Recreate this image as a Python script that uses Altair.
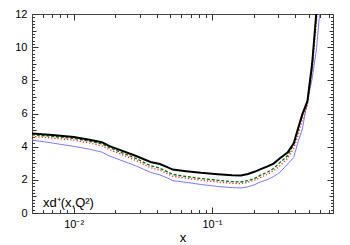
import altair as alt
import pandas as pd

# ---- data ----
x_vals = [0.005, 0.007, 0.010, 0.013, 0.016, 0.018, 0.022, 0.028, 0.036, 0.042,
          0.048, 0.052, 0.065, 0.083, 0.11, 0.14, 0.162, 0.182, 0.205, 0.225,
          0.25, 0.279, 0.31, 0.352, 0.39, 0.416, 0.45, 0.49, 0.53, 0.57, 0.6, 0.65]
black_vals = [4.80, 4.70, 4.58, 4.42, 4.27, 4.05, 3.78, 3.45, 3.08, 2.95, 2.75, 2.62,
              2.52, 2.42, 2.33, 2.27, 2.26, 2.35, 2.50, 2.65, 2.80, 2.98, 3.30, 3.65,
              4.20, 5.00, 5.95, 6.75, 9.0, 12.2, 14.0, 16.0]
green_vals = [4.72, 4.62, 4.50, 4.33, 4.17, 3.95, 3.66, 3.30, 2.85, 2.70, 2.48, 2.33,
              2.20, 2.08, 1.97, 1.89, 1.87, 1.95, 2.10, 2.28, 2.45, 2.68, 3.05, 3.45,
              4.15, 4.90, 5.90, 6.70, 8.9, 12.1, 14.0, 16.0]
red_vals = [4.62, 4.52, 4.40, 4.22, 4.05, 3.83, 3.55, 3.18, 2.73, 2.58, 2.36, 2.22,
            2.10, 1.98, 1.87, 1.79, 1.77, 1.85, 2.00, 2.15, 2.32, 2.55, 2.85, 3.30,
            3.90, 4.60, 5.60, 6.50, 8.6, 11.6, 13.8, 16.0]
blue_vals = [4.40, 4.22, 4.02, 3.85, 3.67, 3.45, 3.18, 2.85, 2.45, 2.30, 2.10, 1.95,
             1.85, 1.72, 1.60, 1.53, 1.51, 1.58, 1.72, 1.88, 2.00, 2.20, 2.45, 2.95,
             3.35, 4.20, 5.07, 6.75, 8.1, 9.9, 12.0, 15.0]

x_major = [0.01, 0.1]
x_minor = [0.006, 0.007, 0.008, 0.009, 0.02, 0.03, 0.04, 0.05, 0.06, 0.07, 0.08, 0.09,
           0.2, 0.3, 0.4, 0.5, 0.6, 0.7]
y_major = [0, 2, 4, 6, 8, 10, 12]
y_medium = [1, 3, 5, 7, 9, 11]
y_minor = [round(0.2 * i, 1) for i in range(61) if i % 5 != 0]
label_text = ["xd⁺(x,Q²)"]
x_title = "x"

FONT = "Liberation Sans"
TICK = "#333333"
x_scale = alt.Scale(type="log", domain=[0.005, 0.75], nice=False)
y_scale = alt.Scale(domain=[0, 12], nice=False, zero=False)


def df(vals):
    return pd.DataFrame({"x": x_vals, "y": vals})


def xaxis(orient, values, size, labels=False, title=None):
    kw = dict(orient=orient, values=values, tickSize=size, offset=-size, domain=False,
              grid=False, labels=labels, tickColor=TICK, tickWidth=1)
    if labels:
        kw.update(labelExpr="datum.value < 0.05 ? '10⁻²' : '10⁻¹'", labelFont=FONT,
                  labelFontSize=11, labelColor="black", labelPadding=5)
    if title:
        kw.update(title=title, titleFont=FONT, titleFontSize=13, titleFontWeight="normal",
                  titleColor="black", titlePadding=2)
    else:
        kw.update(title=None)
    return alt.Axis(**kw)


def yaxis(orient, values, size, labels=False):
    kw = dict(orient=orient, values=values, tickSize=size, offset=-size, domain=False,
              grid=False, labels=labels, tickColor=TICK, tickWidth=1, title=None)
    if labels:
        kw.update(format="d", labelFont=FONT, labelFontSize=11, labelColor="black",
                  labelPadding=5)
    return alt.Axis(**kw)


def layer(vals, mark_kw, xax, yax):
    return alt.Chart(df(vals)).mark_line(clip=True, **mark_kw).encode(
        x=alt.X("x:Q", scale=x_scale, axis=xax),
        y=alt.Y("y:Q", scale=y_scale, axis=yax),
    )


l_blue = layer(blue_vals, dict(color="#7a7aff", strokeWidth=1),
               xaxis("top", x_major, 6), yaxis("right", y_major, 6))
l_red = layer(red_vals, dict(color="#ff2020", strokeWidth=1.3, strokeDash=[1.2, 2]),
              xaxis("top", x_minor, 3.5), yaxis("left", y_minor, 2.5))
l_green = layer(green_vals, dict(color="#007000", strokeWidth=1.3, strokeDash=[3, 1.8]),
                xaxis("bottom", x_minor, 3.5), yaxis("left", y_medium, 4))
l_black = layer(black_vals, dict(color="black", strokeWidth=2),
                xaxis("bottom", x_major, 6, labels=True, title=x_title),
                yaxis("left", y_major, 6, labels=True))
l_h1 = layer(black_vals, dict(opacity=0), None, yaxis("right", y_medium, 4))
l_h2 = layer(black_vals, dict(opacity=0), None, yaxis("right", y_minor, 2.5))

txt = alt.Chart(pd.DataFrame({"t": label_text})).mark_text(
    align="left", baseline="alphabetic", font=FONT, fontSize=13, color="black"
).encode(text="t:N", x=alt.value(11), y=alt.value(193))

chart = alt.layer(l_h1, l_h2, l_blue, l_red, l_green, l_black, txt).resolve_axis(
    x="independent", y="independent"
).properties(
    width=301, height=199,
    autosize=alt.AutoSizeParams(type="none"),
    padding={"left": 24, "top": 6, "right": 9, "bottom": 30},
    background="white",
).configure_view(stroke="#444444", strokeWidth=1)

chart.save("out.html", embed_options={"renderer": "svg", "actions": False})
